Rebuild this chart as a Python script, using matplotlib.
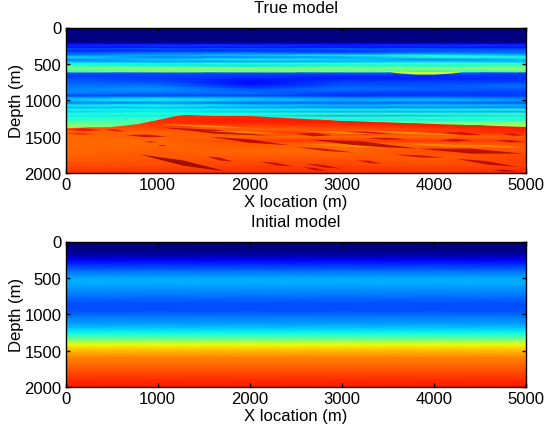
import numpy as np
import matplotlib
matplotlib.use("Agg")
import matplotlib.pyplot as plt
from matplotlib.patches import Polygon

plt.rcParams['font.family'] = ['Liberation Sans', 'DejaVu Sans']
plt.rcParams['font.size'] = 12

x_cols = [0, 1000, 2000, 3000, 4000, 5000]
x_ticks = [0, 1000, 2000, 3000, 4000, 5000]
depth_ticks = [0, 500, 1000, 1500, 2000]

# sediment section, rows by depth, columns by x_cols (normalised velocity)
upper_depth = [0, 205, 222, 250, 275, 295, 320, 350, 385, 410, 440, 470, 495, 525, 550, 570, 590, 610,
               630, 660, 700, 750, 800, 850, 900, 940, 970, 1000, 1040, 1070, 1100, 1130, 1160, 1190,
               1215, 1245, 1275, 1300, 1330, 1360, 1400, 2000]
upper_c0 = [0, 0, .10, .17, .13, .20, .16, .21, .26, .36, .24, .30, .37, .40, .50, .50, .40, .47,
            .21, .18, .20, .22, .24, .25, .26, .18, .29, .33, .24, .37, .30, .38, .33, .40,
            .36, .40, .40, .46, .50, .53, .53, .53]
upper_c1 = [0, 0, .10, .19, .12, .21, .17, .24, .30, .25, .33, .28, .37, .36, .50, .52, .48, .54,
            .21, .19, .18, .20, .24, .27, .24, .19, .32, .37, .26, .38, .32, .36, .36, .41,
            .36, .40, .44, .44, .44, .44, .44, .44]
upper_c2 = [0, 0, .10, .19, .13, .20, .17, .24, .33, .26, .37, .28, .41, .35, .44, .54, .46, .54,
            .20, .18, .16, .13, .15, .21, .24, .19, .30, .33, .22, .34, .28, .37, .32, .41,
            .36, .42, .42, .42, .42, .42, .42, .42]
upper_c3 = [0, 0, .10, .17, .11, .22, .18, .20, .37, .28, .34, .30, .41, .37, .50, .50, .46, .52,
            .21, .17, .15, .19, .21, .24, .19, .17, .26, .30, .22, .31, .25, .37, .30, .43,
            .30, .42, .36, .46, .50, .52, .54, .54]
upper_c4 = [0, 0, .10, .19, .11, .21, .20, .24, .37, .40, .25, .33, .43, .37, .48, .52, .44, .40,
            .21, .17, .16, .19, .21, .22, .18, .18, .26, .31, .22, .33, .25, .37, .30, .42,
            .33, .43, .36, .46, .50, .52, .54, .54]
upper_c5 = [0, 0, .10, .18, .12, .18, .22, .24, .31, .39, .32, .30, .41, .42, .50, .53, .46, .50,
            .18, .18, .17, .19, .24, .21, .19, .18, .23, .28, .21, .31, .25, .39, .29, .44,
            .36, .40, .38, .50, .52, .55, .56, .56]

# lower body, rows by depth, columns by x_cols
lower_depth = [1150, 1300, 1400, 1450, 1500, 1560, 1600, 1700, 1800, 1900, 2000]
lower_c0 = [.81, .81, .81, .81, .80, .80, .80, .80, .81, .83, .86]
lower_c1 = [.86, .86, .83, .80, .81, .80, .80, .81, .82, .83, .86]
lower_c2 = [.86, .88, .80, .85, .80, .84, .82, .80, .82, .84, .86]
lower_c3 = [.84, .88, .82, .84, .80, .85, .80, .80, .82, .84, .86]
lower_c4 = [.88, .90, .84, .85, .80, .85, .81, .83, .81, .83, .86]
lower_c5 = [.90, .90, .88, .86, .81, .84, .82, .82, .84, .84, .87]

# top of the lower body
boundary_x = [0, 500, 800, 1000, 1200, 1300, 1600, 2000, 2600, 3000, 4000, 5000]
boundary_d = [1385, 1373, 1327, 1268, 1213, 1204, 1212, 1222, 1258, 1281, 1327, 1362]

# dipping reflectors in the lower body
streak_x0 = [0, 0, 420, 650, 850, 1000, 1030, 1550, 808, 1537, 2110, 2492, 2998, 3250, 2637, 3830,
             4050, 4085, 4664, 4736, 2492, 3578, 4230, 4630, 2600, 3160, 2564, 1000, 1500, 2500, 3000, 3600, 2600, 4200]
streak_d0 = [1400, 1460, 1395, 1480, 1570, 1620, 1373, 1500, 1747, 1775, 1843, 1460, 1437, 1520, 1537, 1665,
             1550, 1450, 1550, 1460, 1642, 1748, 1803, 1962, 1871, 1825, 1917, 1330, 1420, 1420, 1410, 1590, 1600, 1610]
streak_x1 = [400, 330, 650, 1100, 1000, 1100, 2190, 2440, 1750, 1820, 2470, 2890, 3540, 3720, 3830, 4990,
             4410, 4520, 4990, 4990, 3140, 4120, 4917, 4917, 2998, 3433, 2854, 2000, 2400, 3500, 4500, 4600, 3500, 5000]
streak_d1 = [1410, 1465, 1430, 1500, 1575, 1625, 1487, 1620, 1980, 1843, 1911, 1483, 1460, 1537, 1665, 1735,
             1550, 1475, 1575, 1483, 1720, 1793, 1917, 1976, 1940, 1871, 1976, 1380, 1460, 1470, 1490, 1650, 1650, 1650]
streak_v = [.90, .93, .91, .94, .94, .93, .96, .96, .99, .95, .95, .94, .93, .94, .96, .96,
            .94, .93, .94, .93, .94, .94, .96, .96, .95, .94, .95, .74, .75, .75, .74, .75, .75, .75]
streak_h = [22, 8, 14, 20, 9, 9, 26, 24, 36, 20, 18, 24, 24, 14, 34, 34,
            18, 24, 16, 16, 16, 16, 24, 14, 16, 16, 16, 16, 16, 16, 16, 16, 16, 16]

# shallow lens near 4000 m
lens_x = [3450, 3600, 3800, 4000, 4200, 4350]
lens_top = [590, 600, 605, 605, 600, 590]
lens_bot = [592, 622, 640, 640, 625, 595]
lens_v = 0.60

# initial model profile
init_depth = [0, 120, 200, 260, 320, 400, 500, 560, 650, 750, 850, 950, 1050, 1130, 1200, 1260, 1300,
              1340, 1380, 1420, 1460, 1520, 1600, 1700, 1800, 1900, 2000]
init_v = [0, 0, .05, .11, .17, .23, .29, .30, .27, .24, .20, .20, .25, .28, .33, .37, .42,
          .48, .56, .63, .68, .72, .77, .80, .83, .86, .88]

cmap = plt.get_cmap('jet')
fig = plt.figure(figsize=(5.47, 4.31), dpi=100)
W, H = 547, 431
ax1 = fig.add_axes([65.5 / W, 1 - 174 / H, 460.5 / W, 145.5 / H])
ax2 = fig.add_axes([65.5 / W, 1 - 388 / H, 460.5 / W, 145.5 / H])

upper = np.column_stack([upper_c0, upper_c1, upper_c2, upper_c3, upper_c4, upper_c5])
lower = np.column_stack([lower_c0, lower_c1, lower_c2, lower_c3, lower_c4, lower_c5])

ax1.pcolormesh(x_cols, upper_depth, upper, cmap=cmap, vmin=0, vmax=1, shading='gouraud', zorder=1)
low = ax1.pcolormesh(x_cols, lower_depth, lower, cmap=cmap, vmin=0, vmax=1, shading='gouraud', zorder=2)
clip = Polygon(list(zip(boundary_x, boundary_d)) + [(5000, 2000), (0, 2000)], closed=True,
               transform=ax1.transData, fc='none', ec='none')
ax1.add_patch(clip)
low.set_clip_path(clip)
for x0, d0, x1, d1, v, h in zip(streak_x0, streak_d0, streak_x1, streak_d1, streak_v, streak_h):
    xm, dm = (x0 + x1) / 2, (d0 + d1) / 2
    ax1.fill([x0, xm, x1, xm], [d0, dm - h, d1, dm + h], color=cmap(v), lw=0, alpha=0.8, zorder=3)
ax1.fill_between(lens_x, lens_top, lens_bot, color=cmap(lens_v), lw=0, zorder=2)

ax2.pcolormesh(x_cols, init_depth, np.tile(np.array(init_v)[:, None], (1, len(x_cols))),
               cmap=cmap, vmin=0, vmax=1, shading='gouraud')

for ax, title in ((ax1, 'True model'), (ax2, 'Initial model')):
    ax.set_xlim(0, 5000)
    ax.set_ylim(2000, 0)
    ax.set_xticks(x_ticks)
    ax.set_yticks(depth_ticks)
    ax.tick_params(direction='in', length=3, width=1, top=True, right=True, pad=3, labelsize=12, color='black')
    ax.set_xlabel('X location (m)', fontsize=12, labelpad=1)
    ax.set_ylabel('Depth (m)', fontsize=12, labelpad=0)
    ax.set_title(title, fontsize=12, pad=11)
    for s in ax.spines.values():
        s.set_linewidth(1.0)

fig.savefig('out.png', dpi=100)
